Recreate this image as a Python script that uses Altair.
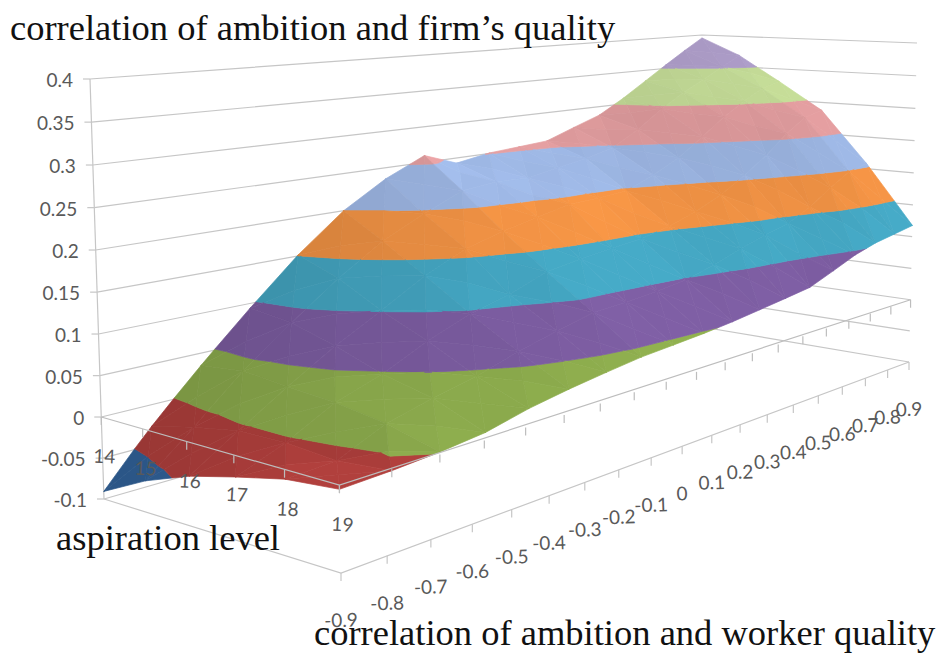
import altair as alt
import pandas as pd

alt.data_transformers.disable_max_rows()

# ---- data -----------------------------------------------------------------
aspiration = [14, 15, 16, 17, 18, 19]
correlation = [-0.9, -0.8, -0.7, -0.6, -0.5, -0.4, -0.3, -0.2, -0.1, 0, 0.1, 0.2, 0.3, 0.4, 0.5, 0.6, 0.7, 0.8, 0.9]
z_ticks = [-0.1, -0.05, 0, 0.05, 0.1, 0.15, 0.2, 0.25, 0.3, 0.35, 0.4]
z_labels = ["-0.1", "-0.05", "0", "0.05", "0.1", "0.15", "0.2", "0.25", "0.3", "0.35", "0.4"]
asp14 = [-0.091, -0.028, 0.033, 0.093, 0.151, 0.2, 0.235, 0.26, 0.243, 0.251, 0.254, 0.257, 0.272, 0.286, 0.308, 0.332, 0.355, 0.376, 0.395]
asp15 = [-0.063, -0.015, 0.039, 0.086, 0.131, 0.169, 0.196, 0.219, 0.224, 0.222, 0.23, 0.237, 0.247, 0.269, 0.296, 0.318, 0.335, 0.352, 0.368]
asp16 = [-0.042, -0.005, 0.033, 0.069, 0.101, 0.134, 0.159, 0.173, 0.183, 0.193, 0.194, 0.197, 0.213, 0.232, 0.258, 0.284, 0.304, 0.32, 0.328]
asp17 = [-0.027, -0.004, 0.028, 0.048, 0.075, 0.097, 0.11, 0.129, 0.136, 0.141, 0.145, 0.154, 0.167, 0.184, 0.206, 0.23, 0.258, 0.278, 0.285]
asp18 = [-0.013, -0.009, 0.018, 0.033, 0.045, 0.062, 0.075, 0.087, 0.089, 0.093, 0.098, 0.109, 0.122, 0.133, 0.142, 0.158, 0.18, 0.198, 0.205]
asp19 = [-0.007, -0.004, 0.0005, 0.007, 0.02, 0.029, 0.036, 0.042, 0.045, 0.048, 0.052, 0.057, 0.062, 0.067, 0.081, 0.095, 0.104, 0.109, 0.114]
surface = [asp14, asp15, asp16, asp17, asp18, asp19]
band_colors = ["#33659F", "#B5413E", "#90B04F", "#7F5FA5", "#46ABC8", "#F79646", "#A0BAE8", "#E6A0A2", "#C8E09A", "#B3A2CF"]

# ---- the 3-D view: floor and ceiling of the box as seen on the page --------
def homog(A, B, C, D):
    dx1 = B[0]-C[0]; dx2 = D[0]-C[0]; sx = A[0]-B[0]+C[0]-D[0]
    dy1 = B[1]-C[1]; dy2 = D[1]-C[1]; sy = A[1]-B[1]+C[1]-D[1]
    den = dx1*dy2-dx2*dy1
    g = (sx*dy2-dx2*sy)/den; h = (dx1*sy-sx*dy1)/den
    a = B[0]-A[0]+g*B[0]; b = D[0]-A[0]+h*D[0]; c = A[0]
    d = B[1]-A[1]+g*B[1]; e = D[1]-A[1]+h*D[1]; f = A[1]
    return lambda u, v: ((a*u+b*v+c)/(g*u+h*v+1), (d*u+e*v+f)/(g*u+h*v+1))

FLOOR = homog((104, 499), (341, 573), (909, 362), (702, 327))
CEIL = homog((90, 79), (333, 123), (917, 43), (702, 35))

def project(u, v, z):
    w = (z+0.1)/0.5
    a = FLOOR(u, v); b = CEIL(u, v)
    return (a[0]+w*(b[0]-a[0]), a[1]+w*(b[1]-a[1]))

def project_axis(u, v, z):
    # the value axis is slightly foreshortened towards the floor
    w = (z+0.1)/0.5
    w = w-0.03*w*(1-w)
    a = FLOOR(u, v); b = CEIL(u, v)
    return (a[0]+w*(b[0]-a[0]), a[1]+w*(b[1]-a[1]))

# ---- surface: each cell is four triangles round its mean, cut into bands ---
def shade(hex_color, f):
    rgb = [int(hex_color[i:i+2], 16) for i in (1, 3, 5)]
    return "#%02x%02x%02x" % tuple(max(0, min(255, round(c*f))) for c in rgb)

def clip(poly, level, keep_above):
    out = []
    n = len(poly)
    for i in range(n):
        p = poly[i]; q = poly[(i+1) % n]
        pin = p[2] >= level if keep_above else p[2] <= level
        qin = q[2] >= level if keep_above else q[2] <= level
        if pin:
            out.append(p)
        if pin != qin:
            t = (level-p[2])/(q[2]-p[2])
            out.append((p[0]+t*(q[0]-p[0]), p[1]+t*(q[1]-p[1]), level))
    return out

def lighting(tri):
    (a, b, c) = tri
    e1 = (b[0]-a[0], b[1]-a[1], (b[2]-a[2])/0.5)
    e2 = (c[0]-a[0], c[1]-a[1], (c[2]-a[2])/0.5)
    n = (e1[1]*e2[2]-e1[2]*e2[1], e1[2]*e2[0]-e1[0]*e2[2], e1[0]*e2[1]-e1[1]*e2[0])
    if n[2] < 0:
        n = (-n[0], -n[1], -n[2])
    m = (n[0]**2+n[1]**2+n[2]**2)**0.5
    return 0.87+0.16*(0.45*n[0]+0.45*n[1]+0.77*n[2])/m

rows = []
pid = 0
nu = len(aspiration)-1
nv = len(correlation)-1
cells = [(i, j) for i in range(nu) for j in range(nv)]
cells.sort(key=lambda c: -(-0.11*c[0]/nu+0.45*c[1]/nv))
for i, j in cells:
    u0, u1 = i/nu, (i+1)/nu
    v0, v1 = j/nv, (j+1)/nv
    a = (u0, v0, surface[i][j]); b = (u1, v0, surface[i+1][j])
    c = (u1, v1, surface[i+1][j+1]); d = (u0, v1, surface[i][j+1])
    m = ((u0+u1)/2, (v0+v1)/2, (a[2]+b[2]+c[2]+d[2])/4)
    for tri in [(d, c, m), (a, d, m), (c, b, m), (b, a, m)]:
        f = lighting(tri)
        for k, col in enumerate(band_colors):
            lo = -0.1+0.05*k; hi = lo+0.05
            poly = clip(clip(list(tri), lo, True), hi, False)
            if len(poly) < 3:
                continue
            fill = shade(col, f)
            for n, pt in enumerate(poly):
                x, y = project(*pt)
                rows.append({"x": x, "y": y, "id": pid, "k": n, "c": fill})
            pid += 1
surf_df = pd.DataFrame(rows)

# ---- frame lines -----------------------------------------------------------
def seg_rows(pts, sid):
    return [{"x": p[0], "y": p[1], "id": sid, "k": n} for n, p in enumerate(pts)]

back = []
sid = 0
for z in z_ticks:
    back += seg_rows([project_axis(0, 0, z), project_axis(0, 1, z), project_axis(1, 1, z)], sid); sid += 1
back += seg_rows([project_axis(0, 0, -0.1), project_axis(0, 0, 0.4)], sid); sid += 1
back += seg_rows([project_axis(0, 0, -0.1), project_axis(1, 0, -0.1), project_axis(1, 1, -0.1)], sid); sid += 1
for j in range(nv+1):
    p = project_axis(1, j/nv, -0.1)
    back += seg_rows([p, (p[0], p[1]+8)], sid); sid += 1
for z in z_ticks:
    p = project_axis(0, 0, z)
    back += seg_rows([(p[0]-7, p[1]), p], sid); sid += 1
back_df = pd.DataFrame(back)

front = []
sid = 0
front += seg_rows([project_axis(0, 0, 0), project_axis(1, 0, 0), project_axis(1, 1, 0)], sid); sid += 1
for i in range(nu+1):
    p = project_axis(i/nu, 0, 0)
    front += seg_rows([p, (p[0], p[1]+8)], sid); sid += 1
for j in range(nv+1):
    p = project_axis(1, j/nv, 0)
    front += seg_rows([p, (p[0], p[1]+8)], sid); sid += 1
front_df = pd.DataFrame(front)

# ---- labels ----------------------------------------------------------------
z_lab = []
for z, t in zip(z_ticks, z_labels):
    p = project_axis(0, 0, z)
    z_lab.append({"x": p[0]-17, "y": p[1]+2, "t": t})
asp_lab = []
for i, a in enumerate(aspiration):
    p = project_axis(i/nu, 0, 0)
    asp_lab.append({"x": p[0]+3, "y": p[1]+40, "t": str(a)})
cor_lab = []
for j, c in enumerate(correlation):
    p = project_axis(1, j/nv, -0.1)
    cor_lab.append({"x": p[0], "y": p[1]+48, "t": str(c)})
titles = pd.DataFrame({
    "x": [10, 56, 314],
    "y": [40, 550, 645],
    "t": ["correlation of ambition and firm\u2019s quality", "aspiration level", "correlation of ambition and worker quality"],
})

# ---- chart -----------------------------------------------------------------
W, H = 928, 645
X = alt.X("x:Q", scale=alt.Scale(domain=[8, 8+W], nice=False, zero=False), axis=None)
Y = alt.Y("y:Q", scale=alt.Scale(domain=[8+H, 8], nice=False, zero=False), axis=None)

back_layer = alt.Chart(back_df).mark_line(color="#C6C6C6", strokeWidth=1.2).encode(
    x=X, y=Y, detail="id:N", order="k:Q")
surf_layer = alt.Chart(surf_df).mark_line(interpolate="linear-closed", strokeWidth=0.7).encode(
    x=X, y=Y, detail="id:N", order="k:Q",
    fill=alt.Fill("c:N", scale=None), stroke=alt.Stroke("c:N", scale=None))
front_layer = alt.Chart(front_df).mark_line(color="#BDBDBD", strokeWidth=1.2).encode(
    x=X, y=Y, detail="id:N", order="k:Q")

GREY = "#595959"
z_text = alt.Chart(pd.DataFrame(z_lab)).mark_text(font="Lato", fontSize=19, align="right", baseline="middle", color=GREY).encode(
    x=X, y=Y, text="t:N")
asp_text = alt.Chart(pd.DataFrame(asp_lab)).mark_text(font="Lato", fontSize=19, align="center", baseline="middle", color=GREY, angle=3).encode(
    x=X, y=Y, text="t:N")
cor_text = alt.Chart(pd.DataFrame(cor_lab)).mark_text(font="Lato", fontSize=19, align="center", baseline="middle", color=GREY, angle=358).encode(
    x=X, y=Y, text="t:N")
title_text = alt.Chart(titles).mark_text(font="Liberation Serif", fontSize=36.5, align="left", baseline="alphabetic", color="#111111").encode(
    x=X, y=Y, text="t:N")

chart = alt.layer(back_layer, surf_layer, front_layer, z_text, asp_text, cor_text, title_text).properties(
    width=W, height=H, padding=0,
    autosize=alt.AutoSizeParams(type="none"),
).configure_view(stroke=None)

chart.save("out.html", embed_options={"renderer": "svg", "actions": False})
